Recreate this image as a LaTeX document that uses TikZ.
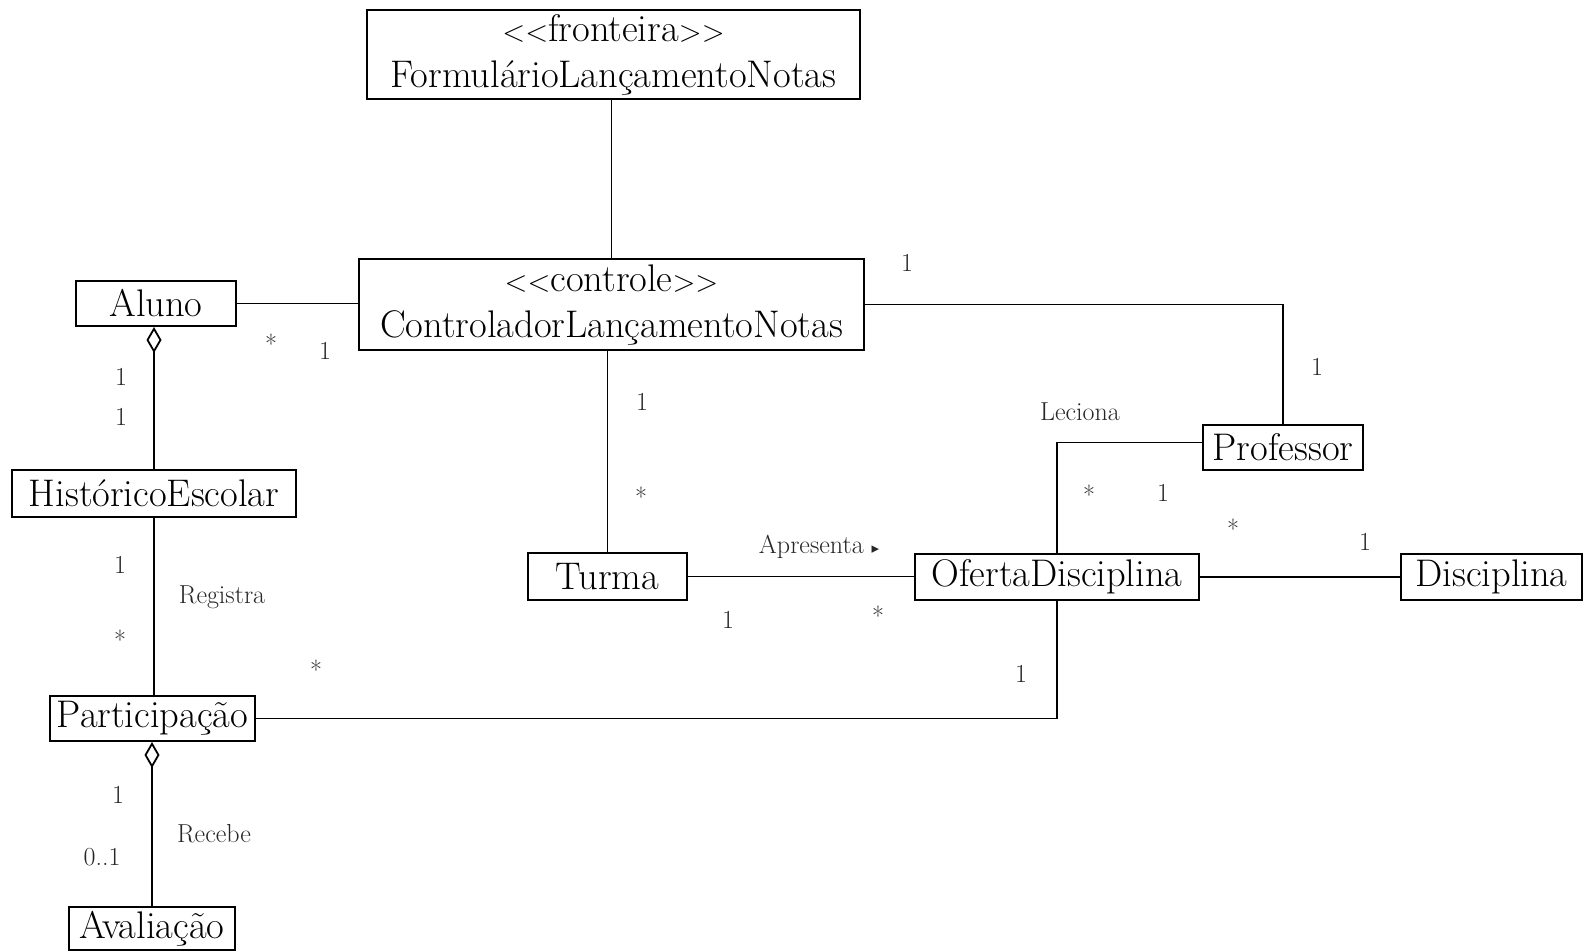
\documentclass[tikz,border=0pt]{standalone}
\usepackage{fontspec}
\newfontfamily\symfont{DejaVu Sans}
\usetikzlibrary{arrows.meta}
\newcommand{\stereo}[1]{{\fontsize{30}{46}\selectfont{<}{<}}#1{\fontsize{30}{46}\selectfont{>}{>}}}
\begin{document}
\begin{tikzpicture}[x=1pt,y=-1pt,
  cls/.style={draw, line width=2pt, inner sep=0pt, align=center,
    font=\fontsize{38.5}{46}\selectfont},
  assoc/.style={line width=1.8pt},
  agg/.style={assoc, -{Diamond[open,length=26pt,width=15pt,line width=1.8pt]}},
  mult/.style={inner sep=0pt, text=black!85, font=\fontsize{26}{28}\selectfont},
  role/.style={inner sep=0pt, text=black!85, font=\fontsize{26}{28}\selectfont}]
\useasboundingbox (0,0) rectangle (1585,952);

% classes
\node[cls, minimum width=493pt, minimum height=89pt] (form) at (613.5,54.5)
  {\stereo{fronteira}\\FormulárioLançamentoNotas};
\node[cls, minimum width=505pt, minimum height=91pt] (ctrl) at (611.5,304.5)
  {\stereo{controle}\\ControladorLançamentoNotas};
\node[cls, minimum width=160pt, minimum height=45pt] (aluno) at (156,303.5) {Aluno};
\node[cls, minimum width=284pt, minimum height=47pt] (hist) at (154,493.5) {HistóricoEscolar};
\node[cls, minimum width=205pt, minimum height=45pt] (part) at (152.5,718.5) {Participação};
\node[cls, minimum width=166pt, minimum height=43pt] (aval) at (152,928.5) {Avaliação};
\node[cls, minimum width=159pt, minimum height=47pt] (turma) at (607.5,576.5) {Turma};
\node[cls, minimum width=284pt, minimum height=46pt] (oferta) at (1057,577) {OfertaDisciplina};
\node[cls, minimum width=181pt, minimum height=46pt] (disc) at (1491.5,577) {Disciplina};
\node[cls, minimum width=160pt, minimum height=45pt] (prof) at (1283,447.5) {Professor};

% associations
\draw[assoc] (ctrl.north |- form.south) -- (ctrl.north);
\draw[assoc] (aluno.east) -- (aluno.east -| ctrl.west);
\draw[assoc] (ctrl.south -| turma.north) -- (turma.north);
\draw[assoc] (ctrl.east) -| (prof.north);
\draw[assoc] ([yshift=5pt]prof.west) -| (oferta.north);
\draw[assoc] (turma.east) -- (turma.east -| oferta.west);
\draw[assoc] (oferta.east) -- (disc.west);
\draw[assoc] (oferta.south) |- (part.east);
\draw[assoc] (hist.south) -- (part.north -| hist.south);
% aggregations
\draw[agg] (hist.north) -- (aluno.south -| hist.north);
\draw[agg] (aval.north) -- (part.south -| aval.north);

% multiplicities
\node[mult] (m1) at (907,263) {1};
\node[mult] (m2) at (1317,367) {1};
\node[mult] (m3) at (1089,495) {*};
\node[mult] (m4) at (1163,493) {1};
\node[mult] (m5) at (1233,529) {*};
\node[mult] (m6) at (1365,542) {1};
\node[mult] (m7) at (642,402) {1};
\node[mult] (m8) at (641,497) {*};
\node[mult] (m9) at (728,620) {1};
\node[mult] (m10) at (878,616) {*};
\node[mult] (m11) at (1021,674) {1};
\node[mult] (m12) at (316,670) {*};
\node[mult] (m13) at (271,344) {*};
\node[mult] (m14) at (325,351) {1};
\node[mult] (m15) at (121,377) {1};
\node[mult] (m16) at (121,417) {1};
\node[mult] (m17) at (120,565) {1};
\node[mult] (m18) at (120,640) {*};
\node[mult] (m19) at (118,795) {1};
\node[mult] (m20) at (102,857) {0..1};

% association names
\node[role] (r1) at (1080,412) {Leciona};
\node[role] (r2) at (819,547) {Apresenta {\symfont\fontsize{15}{16}\selectfont ▸}};
\node[role] (r3) at (222,597) {Registra};
\node[role] (r4) at (214,834) {Recebe};
\end{tikzpicture}
\end{document}
